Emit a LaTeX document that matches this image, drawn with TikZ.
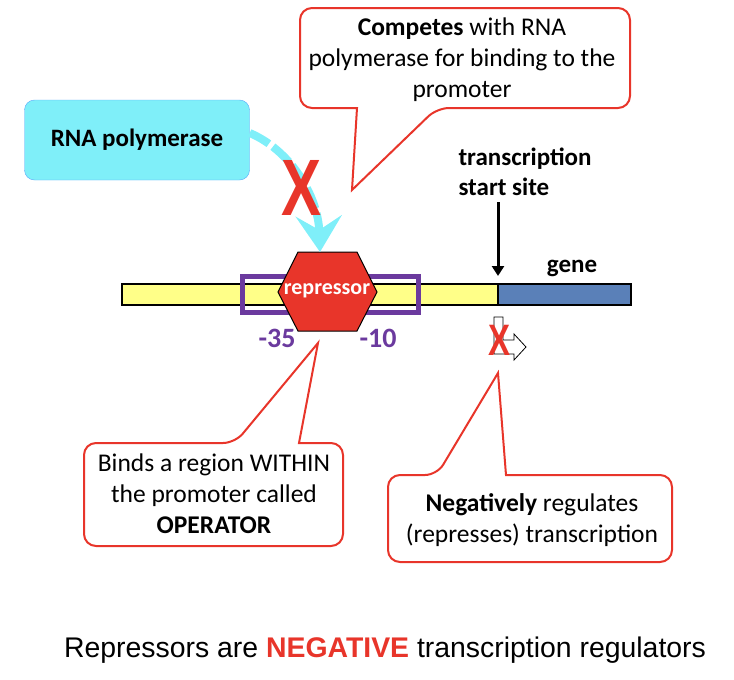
\documentclass[tikz,border=0pt]{standalone}
\usepackage{fontspec}
\setmainfont{Carlito}
\newfontfamily\captionfont{Liberation Sans}
\usetikzlibrary{arrows.meta,positioning}
\definecolor{calloutred}{HTML}{E8352A}
\definecolor{polycyan}{HTML}{7FEFF9}
\definecolor{dnayellow}{HTML}{FFFF88}
\definecolor{dnablue}{HTML}{5A80B8}
\definecolor{boxpurple}{HTML}{6B3A9E}
\tikzset{
  callout/.style = {draw=calloutred, line width=2pt, fill=white},
  callouttext/.style = {align=center, font=\fontsize{25.5}{31}\selectfont},
  boldlabel/.style = {font=\fontsize{25}{30}\selectfont\bfseries},
  bigx/.style = {text=calloutred, font=\captionfont\bfseries, inner sep=0pt, xscale=0.75}
}
\begin{document}
\begin{tikzpicture}[x=1pt, y=-1pt]
  \useasboundingbox (0,0) rectangle (734,680);
  % callouts
  \draw[callout, rounded corners=12] (300,8) -- (630,8) -- (630,108) -- (437,108)
    [sharp corners] -- (352,190) -- (357,108) [rounded corners=12] -- (300,108) -- cycle;
  \node[callouttext] (compete) at (462,60) {\textbf{Competes} with RNA\\polymerase for binding to the\\promoter};
  \draw[callout, rounded corners=12] (84,443) -- (235,443)
    [sharp corners] -- (318,343) -- (299,443) [rounded corners=12] -- (343,443) -- (343,546) -- (84,546) -- cycle;
  \node[callouttext] (binds) at (214,494) {Binds a region WITHIN\\the promoter called\\\textbf{OPERATOR}};
  \draw[callout, rounded corners=12] (388,475) -- (437,475)
    [sharp corners] -- (498,373) -- (506,475) [rounded corners=12] -- (672,475) -- (672,562) -- (388,562) -- cycle;
  \node[callouttext] (negreg) at (532,520) {\textbf{Negatively} regulates\\(represses) transcription};
  % DNA
  \draw[fill=dnayellow, line width=2pt] (122,284) rectangle (498,305);
  \draw[fill=dnablue, line width=2pt] (498,284) rectangle (631,305);
  \draw[boxpurple, line width=5pt] (242,276) rectangle (418,312);
  \node[text=boxpurple, font=\fontsize{28}{30}\selectfont\bfseries] (m35) at (277,338) {-35};
  \node[text=boxpurple, font=\fontsize{28}{30}\selectfont\bfseries] (m10) at (378,338) {-10};
  \draw[fill=calloutred, line width=1pt] (278,292) -- (298,252) -- (357,252) -- (377,292) -- (357,331) -- (298,331) -- cycle;
  \node[text=white, font=\fontsize{22}{24}\selectfont\bfseries] (repressor) at (327,291) {repressor};
  \node[boldlabel] (gene) at (572,268) {gene};
  % polymerase
  \node[draw=polycyan!70!blue, fill=polycyan, rounded corners=10, minimum width=225pt,
        minimum height=80pt, boldlabel] (rnap) at (137,140) {RNA polymerase};
  \draw[polycyan, line width=8pt, dash pattern=on 22pt off 5pt,
        -{Stealth[length=36pt, width=46pt, inset=14pt]}]
    (rnap.east |- 0,133) .. controls (290,150) and (318,195) .. (320,252);
  \node[bigx, font=\captionfont\bfseries\fontsize{80}{80}\selectfont] (blockx) at (302,188) {X};
  % start site
  \node[boldlabel, align=left, anchor=west] (tss) at (455,172) {transcription\\start site};
  \coordinate (tsstop) at (498,202);
  \coordinate (tssbot) at (498,276);
  \draw[line width=3pt, -{Triangle[length=10pt, width=12pt]}] (tsstop) -- (tssbot);
  \draw[fill=white, line width=0.8pt] (494,317) -- (503,317) -- (503,340) -- (514,340) -- (514,334)
    -- (526,347) -- (514,360) -- (514,354) -- (494,354) -- cycle;
  \node[bigx, font=\captionfont\bfseries\fontsize{44}{44}\selectfont] (txx) at (500,340) {X};
  % caption
  \node[font=\captionfont\fontsize{28.4}{30}\selectfont] (caption) at (385,650)
    {Repressors are \textcolor{calloutred}{\textbf{NEGATIVE}} transcription regulators};
\end{tikzpicture}
\end{document}
